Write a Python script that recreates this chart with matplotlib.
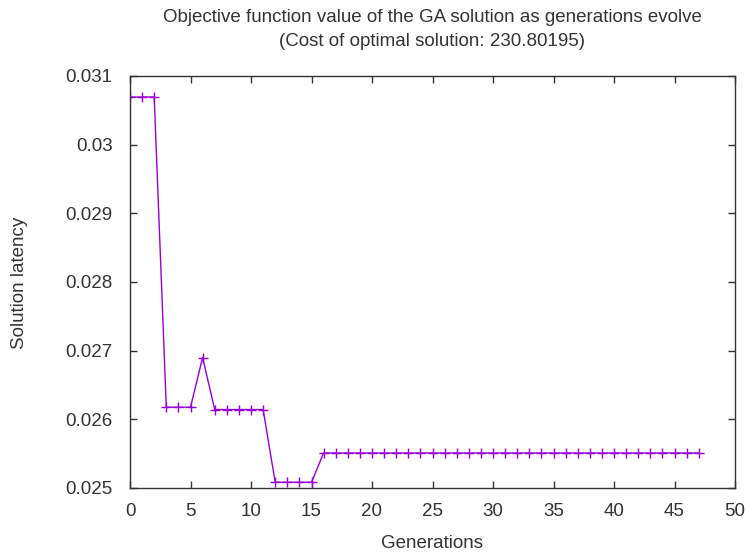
import matplotlib
matplotlib.use("Agg")
import matplotlib.pyplot as plt

plt.rcParams["font.family"] = ["Liberation Sans", "DejaVu Sans"]

# best objective value per generation
generations = list(range(48))
latency = ([0.030694] * 3 + [0.026176] * 3 + [0.0269] + [0.026143] * 5
           + [0.025084] * 4 + [0.02551] * 32)

title_lines = ["Objective function value of the GA solution as generations evolve",
               "(Cost of optimal solution: 230.80195)"]

W, H = 745, 554
fig = plt.figure(figsize=(W / 100, H / 100), dpi=100)
ax = fig.add_axes([130 / W, 1 - 488 / H, 605 / W, 412 / H])

ax.plot(generations, latency, color="#9400D3", linewidth=1.0,
        marker="+", markersize=7.5, markeredgewidth=1.0)

ax.set_xlim(0, 50)
ax.set_ylim(0.025, 0.031)
ax.set_xticks(range(0, 51, 5))
ax.set_yticks([0.025, 0.026, 0.027, 0.028, 0.029, 0.03, 0.031])
ax.set_yticklabels(["0.025", "0.026", "0.027", "0.028", "0.029", "0.03", "0.031"])
ax.tick_params(direction="in", length=5, width=1, top=True, right=True,
               labelsize=13.5, colors="#333333")
ax.tick_params(axis="y", pad=12.5)
ax.tick_params(axis="x", pad=11)
for s in ax.spines.values():
    s.set_linewidth(1.0)
    s.set_color("#333333")

fs = 13.5
txt = "#333333"
fig.text(432 / W, 1 - 543 / H, "Generations", fontsize=fs, color=txt,
         ha="center", va="center")
fig.text(20 / W, 1 - 283 / H, "Solution latency", fontsize=fs, color=txt,
         ha="center", va="center", rotation=90)
fig.text(432 / W, 1 - 17 / H, title_lines[0], fontsize=fs, color=txt,
         ha="center", va="center")
fig.text(432 / W, 1 - 42 / H, title_lines[1], fontsize=fs, color=txt,
         ha="center", va="center")

fig.savefig("out.png", dpi=100)
